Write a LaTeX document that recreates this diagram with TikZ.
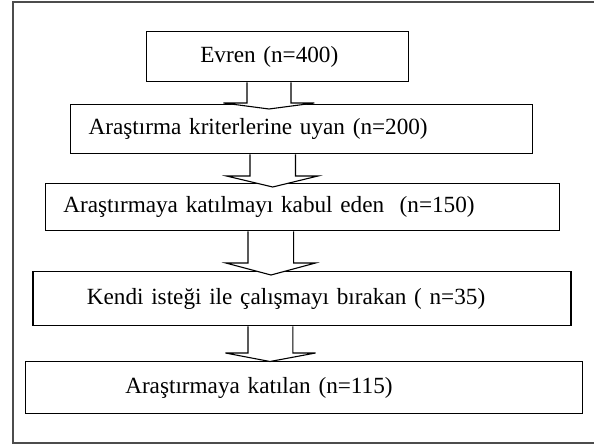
\documentclass[tikz,border=0pt]{standalone}
\usepackage{fontspec}
\setmainfont{Liberation Serif}
\usetikzlibrary{calc}
\tikzset{
  flowbox/.style={draw=black, line width=1.3pt, fill=white, anchor=north west,
    inner ysep=0pt, align=left, font=\fontsize{23.2}{27}\selectfont},
  arr/.style={draw=black, line width=1.1pt, fill=white, line join=miter},
  frame/.style={draw=black!70, line width=1.1pt}
}
\newcommand\flowarr[9]{%
  \draw[arr] let \p1=(#1.south), \p2=(#2.north) in
    (#3pt,\y1) -- (#3pt,{\y2+#8pt}) -- (#5pt,{\y2+#8pt}) -- (#7pt,{\y2-#9pt})
    -- (#6pt,{\y2+#8pt}) -- (#4pt,{\y2+#8pt}) -- (#4pt,\y1);}
\begin{document}
\begin{tikzpicture}[x=1pt,y=-1pt]
\useasboundingbox (0,0) rectangle (594,444);
\clip (0,0) rectangle (594,444);
\draw[frame] (13,2) rectangle (600,443);
\node[flowbox, minimum height=50pt, inner xsep=53.6pt, text width=154.8pt] (b1) at (146,31) {Evren (n=400)};
\node[flowbox, minimum height=49pt, inner xsep=18pt, text width=426pt] (b2) at (70,104) {Araştırma kriterlerine uyan (n=200)};
\node[flowbox, minimum height=47pt, inner xsep=18pt, text width=478pt] (b3) at (44.7,183) {Araştırmaya katılmayı kabul eden\ \ (n=150)};
\node[flowbox, minimum height=54pt, inner xsep=54pt, text width=430pt] (b4) at (32.2,271) {Kendi isteği ile çalışmayı bırakan ( n=35)};
\node[flowbox, minimum height=52pt, inner xsep=100pt, text width=357pt] (b5) at (24.6,361) {Araştırmaya katılan (n=115)};
\flowarr{b1}{b2}{247}{291}{223.5}{314.4}{269}{1}{5}
\flowarr{b2}{b3}{250}{295.5}{226.5}{318}{272.7}{7}{4}
\flowarr{b3}{b4}{248}{293.6}{225.8}{315.5}{271}{8}{4}
\flowarr{b4}{b5}{248}{292.8}{225.4}{315.5}{270}{8}{0.5}
\end{tikzpicture}
\end{document}
